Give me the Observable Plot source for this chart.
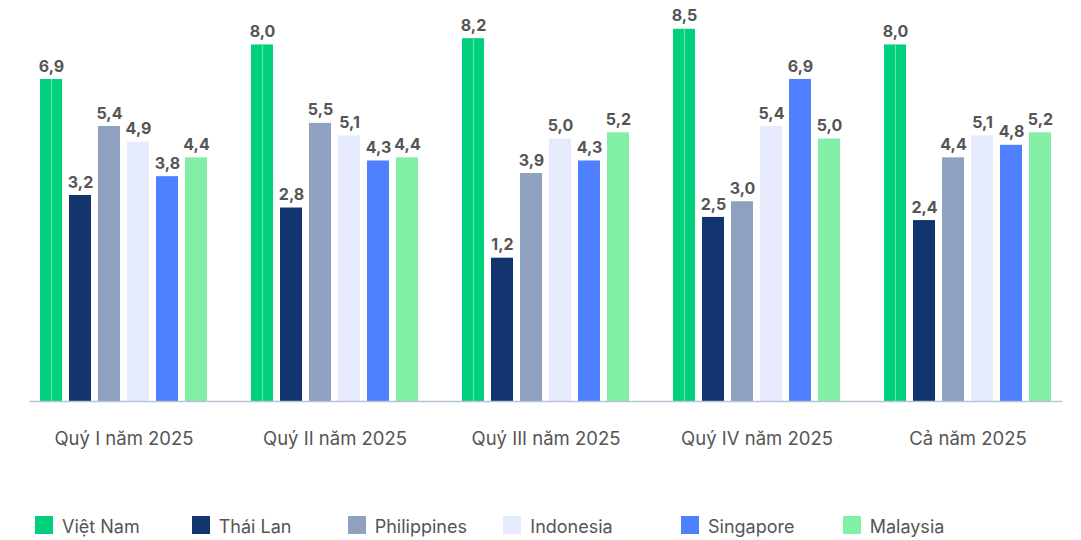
<!DOCTYPE html>
<html><head><meta charset="utf-8">
<script src="https://cdn.jsdelivr.net/npm/d3@7"></script>
<script src="https://cdn.jsdelivr.net/npm/@observablehq/plot@0.6"></script>
<style>
body{margin:0;background:#fff;font-family:Inter, "Noto Sans", sans-serif;}
#chart svg{display:block;}
#legend{position:relative;height:70px;width:1081px;}
.item{position:absolute;top:46px;height:18px;display:flex;align-items:center;font-size:18px;color:#555;white-space:nowrap;}
.item span:last-child{position:relative;top:1px;}
.sw{width:18px;height:18px;margin-right:9px;flex:none;}
</style></head><body><div id="chart"></div><div id="legend"></div>
<script>
const periods = ["Quý I năm 2025","Quý II năm 2025","Quý III năm 2025","Quý IV năm 2025","Cả năm 2025"];
const countries = ["Việt Nam","Thái Lan","Philippines","Indonesia","Singapore","Malaysia"];
const vietNam     = [6.9, 8.0, 8.2, 8.5, 8.0];
const thaiLan     = [3.2, 2.8, 1.2, 2.5, 2.4];
const philippines = [5.4, 5.5, 3.9, 3.0, 4.4];
const indonesia   = [4.9, 5.1, 5.0, 5.4, 5.1];
const singapore   = [3.8, 4.3, 4.3, 6.9, 4.8];
const malaysia    = [4.4, 4.4, 5.2, 5.0, 5.2];
const colors = ["#00cf7c","#13356f","#8fa1c1","#e6ecfd","#4f80ff","#82efa7"];

const series = [vietNam, thaiLan, philippines, indonesia, singapore, malaysia];
const data = [];
periods.forEach((p, i) => countries.forEach((c, j) => data.push({period: p, country: c, value: series[j][i]})));

const yMin = -3.37, yMax = 8.78;
const fmt = v => v.toFixed(1).replace(".", ",");

const chart = Plot.plot({
  width: 1081,
  height: 470,
  marginTop: 20,
  marginBottom: 69,
  marginLeft: 28,
  marginRight: 18,
  style: {fontFamily: 'Inter, "Noto Sans", sans-serif', background: "#fff"},
  fx: {domain: periods, paddingInner: 0.112, paddingOuter: 0, label: null},
  x: {domain: countries, padding: 0.243, axis: null},
  y: {domain: [yMin, yMax], axis: null},
  color: {domain: countries, range: colors},
  marks: [
    Plot.barY(data, {fx: "period", x: "country", y1: yMin, y2: "value", fill: "country"}),
    Plot.ruleX(data.filter(d => d.country === "Việt Nam"), {fx: "period", x: "country", y1: yMin, y2: "value", stroke: "#5fe4a9", strokeWidth: 1.2}),
    Plot.frame({anchor: "bottom", stroke: "#b7c3d7", strokeWidth: 1.6, facet: "super"}),
    Plot.text(data, {fx: "period", x: "country", y: "value", text: d => fmt(d.value), dy: -13, fontWeight: 700, fontSize: 16, fill: "#555"}),
    Plot.axisFx({anchor: "bottom", tickSize: 0, tickPadding: 30, fontSize: 18.5, fill: "#555", label: null})
  ]
});
document.getElementById("chart").appendChild(chart);

const legendLeft = [35, 191.7, 347.7, 503.3, 681, 842.7];
const legend = document.getElementById("legend");
countries.forEach((c, j) => {
  const it = document.createElement("div");
  it.className = "item";
  it.style.left = legendLeft[j] + "px";
  const sw = document.createElement("span");
  sw.className = "sw";
  sw.style.background = colors[j];
  const t = document.createElement("span");
  t.textContent = c;
  it.appendChild(sw); it.appendChild(t);
  legend.appendChild(it);
});
</script></body></html>
